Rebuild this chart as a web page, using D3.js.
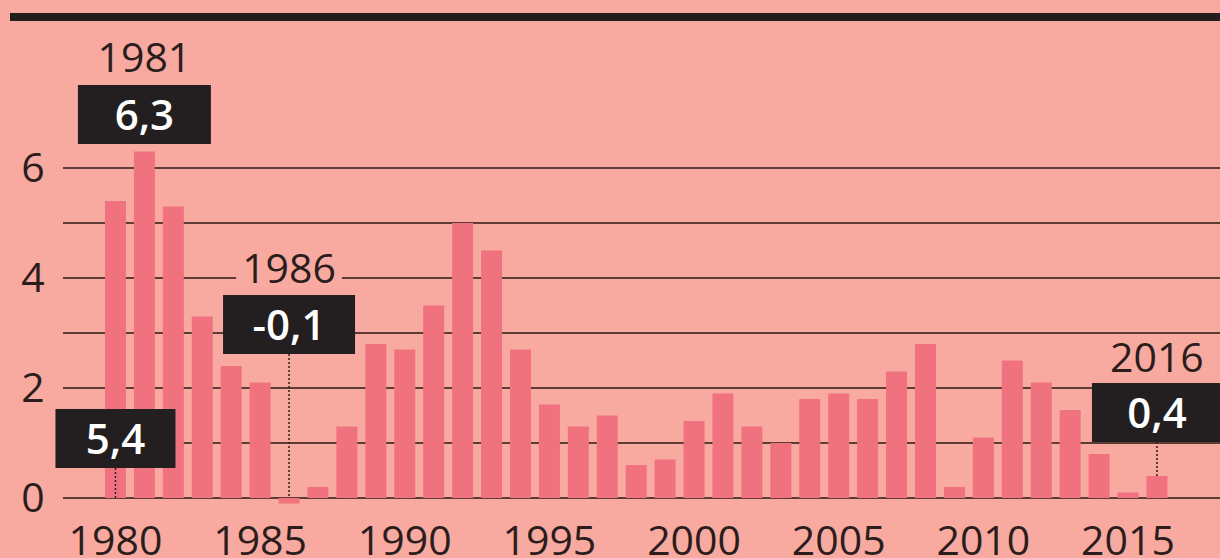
<!DOCTYPE html>
<html>
  <head>
    <meta charset="UTF-8">
    <title>Inflation</title>
    <style>
      body { margin: 0; background: #f8aaa0; }
      svg { display: block; }
      text { font-family: "Open Sans", "Noto Sans", sans-serif; }
    </style>
  </head>
  <body>
    <script src="https://d3js.org/d3.v7.min.js"></script>
    <svg width="1220" height="558" id="chart"></svg>
    <script>
      var years = [1980, 1981, 1982, 1983, 1984, 1985, 1986, 1987, 1988, 1989,
                   1990, 1991, 1992, 1993, 1994, 1995, 1996, 1997, 1998, 1999,
                   2000, 2001, 2002, 2003, 2004, 2005, 2006, 2007, 2008, 2009,
                   2010, 2011, 2012, 2013, 2014, 2015, 2016];
      var values = [5.4, 6.3, 5.3, 3.3, 2.4, 2.1, -0.1, 0.2, 1.3, 2.8,
                    2.7, 3.5, 5.0, 4.5, 2.7, 1.7, 1.3, 1.5, 0.6, 0.7,
                    1.4, 1.9, 1.3, 1.0, 1.8, 1.9, 1.8, 2.3, 2.8, 0.2,
                    1.1, 2.5, 2.1, 1.6, 0.8, 0.1, 0.4];
      var xTicks = [1980, 1985, 1990, 1995, 2000, 2005, 2010, 2015];
      var yTicks = [0, 2, 4, 6];
      var gridTicks = [0, 1, 2, 3, 4, 5, 6];
      var calloutYears = [1980, 1981, 1986, 2016];
      var calloutText = ["5,4", "6,3", "-0,1", "0,4"];
      var calloutYearLabel = ["", "1981", "1986", "2016"];

      // placement of the callouts (pixels); leader goes to the baseline or to the bar top
      var calloutLayout = {
        1980: {top: 409, w: 120, yearBase: null, leader: "base"},
        1981: {top: 85, w: 133, yearBase: 72, leader: null},
        1986: {top: 295, w: 132, yearBase: 283, leader: "base", mask: true},
        2016: {top: 383, w: 130, yearBase: 372, leader: "top"}
      };
      var boxH = 59;

      var data = years.map(function(y, i) { return {year: y, value: values[i]}; });

      var svg = d3.select("#chart");
      var ink = "#2b1d1c";

      svg.append("rect").attr("width", 1220).attr("height", 558).attr("fill", "#f8aaa0");

      // top rule
      svg.append("rect").attr("x", 10).attr("y", 13).attr("width", 1210).attr("height", 8).attr("fill", "#231d1d");

      var x = d3.scaleBand().domain(years).range([101, 1171.4]).paddingInner(0.274).paddingOuter(0.137);
      var y = d3.scaleLinear().domain([0, 6]).range([498, 168]);

      // gridlines
      svg.append("g").selectAll("line")
        .data(gridTicks)
        .enter().append("line")
        .attr("x1", 63).attr("x2", 1220)
        .attr("y1", function(d) { return y(d); })
        .attr("y2", function(d) { return y(d); })
        .attr("stroke", "#5e3c36")
        .attr("stroke-width", 2);

      // y labels
      var yAxis = svg.append("g").attr("transform", "translate(48,0)")
        .call(d3.axisLeft(y).tickValues(yTicks).tickSize(0).tickPadding(0).tickFormat(d3.format("d")));
      yAxis.select(".domain").remove();
      yAxis.selectAll("text")
        .attr("x", -15).attr("text-anchor", "middle")
        .attr("font-size", 41).attr("fill", ink)
        .style("font-family", "'Open Sans', sans-serif");

      // bars
      svg.append("g").selectAll("rect")
        .data(data)
        .enter().append("rect")
        .attr("x", function(d) { return x(d.year); })
        .attr("width", x.bandwidth())
        .attr("y", function(d) { return y(Math.max(0, d.value)); })
        .attr("height", function(d) { return Math.abs(y(d.value) - y(0)); })
        .attr("fill", "#f0727f");

      // x labels
      var xAxis = svg.append("g").attr("transform", "translate(0,498)")
        .call(d3.axisBottom(x).tickValues(xTicks).tickSize(0).tickPadding(0));
      xAxis.select(".domain").remove();
      xAxis.selectAll("text")
        .attr("y", 57).attr("dy", 0)
        .attr("font-size", 41).attr("fill", ink)
        .style("font-family", "'Open Sans', sans-serif");

      // callouts
      var cg = svg.append("g");
      calloutYears.forEach(function(yr, i) {
        var L = calloutLayout[yr];
        var d = data[years.indexOf(yr)];
        var cx = x(yr) + x.bandwidth() / 2;

        if (L.leader) {
          var yEnd = L.leader === "base" ? y(0) : y(Math.max(0, d.value));
          cg.append("line")
            .attr("x1", cx).attr("x2", cx)
            .attr("y1", L.top + boxH)
            .attr("y2", yEnd)
            .attr("stroke", ink).attr("stroke-width", 1.5)
            .attr("stroke-dasharray", "2,2");
        }

        if (L.yearBase !== null) {
          var t = cg.append("text")
            .attr("x", cx).attr("y", L.yearBase)
            .attr("text-anchor", "middle")
            .attr("font-size", 41).attr("fill", ink)
            .text(calloutYearLabel[i]);
          if (L.mask) {
            var bb = t.node().getBBox();
            cg.insert("rect", function() { return t.node(); })
              .attr("x", bb.x - 6).attr("y", bb.y + 4)
              .attr("width", bb.width + 12).attr("height", bb.height - 8)
              .attr("fill", "#f8aaa0");
          }
        }

        cg.append("rect")
          .attr("x", cx - L.w / 2).attr("y", L.top)
          .attr("width", L.w).attr("height", boxH)
          .attr("fill", "#231f20");
        cg.append("text")
          .attr("x", cx).attr("y", L.top + boxH / 2 + 15)
          .attr("text-anchor", "middle")
          .attr("font-size", 42).attr("font-weight", 600)
          .attr("fill", "#ffffff")
          .text(calloutText[i]);
      });
    </script>
  </body>
</html>
